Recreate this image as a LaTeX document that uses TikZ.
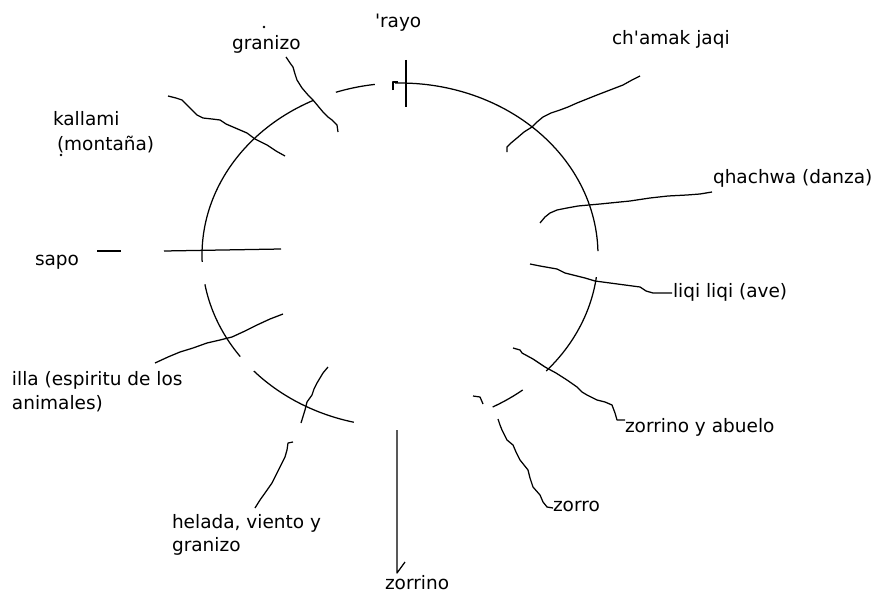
\documentclass[tikz,border=0pt]{standalone}
\usepackage{fontspec}
\newfontfamily\lblfont{DejaVu Sans}
\begin{document}
\begin{tikzpicture}[x=1pt,y=-1pt,
  lbl/.style={inner sep=0pt,outer sep=0pt,anchor=base west,font=\lblfont\fontsize{18.5}{22}\selectfont},
  circ/.style={line width=1.25pt,black},
  wig/.style={line width=1.25pt,black,line join=round},
  dotmark/.style={fill=black,draw=none}]
\useasboundingbox (0,0) rectangle (888,594);
\fill[white] (0,0) rectangle (888,594);

% circle segments
\draw[circ] plot[domain=177.7:244,samples=50] ({400+198*cos(\x)},{255+172*sin(\x)});
\draw[circ] plot[domain=251.1:262.7,samples=10] ({400+198*cos(\x)},{255+172*sin(\x)});
\draw[circ] plot[domain=268.6:358.7,samples=60] ({400+198*cos(\x)},{255+172*sin(\x)});
\draw[circ] plot[domain=7.4:42.4,samples=30] ({400+198*cos(\x)},{255+172*sin(\x)});
\draw[circ] plot[domain=51.7:62.1,samples=10] ({400+198*cos(\x)},{255+172*sin(\x)});
\draw[circ] plot[domain=103.5:137.6,samples=30] ({400+198*cos(\x)},{255+172*sin(\x)});
\draw[circ] plot[domain=143.8:170.2,samples=20] ({400+198*cos(\x)},{255+172*sin(\x)});

% labels
\node[lbl] (granizoA) at (232,50) {granizo};
\node[lbl] (rayo) at (375,28) {'rayo};
\node[lbl] (chamak) at (612,45) {ch'amak jaqi};
\node[lbl] (kallami) at (53,125) {kallami};
\node[lbl] (montana) at (57,150) {(montaña)};
\node[lbl] (qhachwa) at (713,183) {qhachwa (danza)};
\node[lbl] (sapo) at (35,265) {sapo};
\node[lbl] (liqi) at (673,297) {liqi liqi (ave)};
\node[lbl] (illaA) at (12,385) {illa (espiritu de los};
\node[lbl] (illaB) at (12,409) {animales)};
\node[lbl] (abuelo) at (625,432) {zorrino y abuelo};
\node[lbl] (zorro) at (553,511) {zorro};
\node[lbl] (heladaA) at (172,528) {helada, viento y};
\node[lbl] (heladaB) at (172,551) {granizo};
\node[lbl] (zorrino) at (385,589) {zorrino};

% stray dots
\fill[dotmark] (264,27) circle (1.4);
\fill[dotmark] (61,155) circle (1.4);

% rayo cross
\coordinate (rayoT) at (406,60);
\coordinate (rayoB) at (406,107);
\draw[wig] (rayoT) -- (rayoB);
\draw[wig] (393,90) -- (393,82) -- (398,82);

% sapo
\coordinate (sapoA) at (97,251);
\coordinate (sapoB) at (121,251);
\coordinate (sapoC) at (164,251);
\coordinate (sapoD) at (281,249);
\draw[wig] (sapoA) -- (sapoB);
\draw[wig] (sapoC) -- (sapoD);

% granizo line
\coordinate (grS) at (286,57);
\coordinate (grE) at (338,132);
\draw[wig] (grS) -- (290,63) -- (293,67) -- (295,74) -- (297,80) -- (302,88) -- (308,95) -- (313,100)
  -- (318,106) -- (323,112) -- (328,117) -- (332,120) -- (337,125) -- (grE);

% kallami line
\coordinate (kaS) at (168,96);
\coordinate (kaE) at (285,156);
\draw[wig] (kaS) -- (176,98) -- (182,100) -- (188,106) -- (192,110) -- (197,115) -- (203,118)
  -- (212,119) -- (220,120) -- (226,124) -- (233,127) -- (240,130) -- (247,133) -- (255,139)
  -- (261,142) -- (267,145) -- (276,151) -- (kaE);

% ch'amak line
\coordinate (chS) at (640,76);
\coordinate (chE) at (507,152);
\draw[wig] (chS) -- (632,80) -- (623,85) -- (610,90) -- (597,95) -- (587,99) -- (577,103)
  -- (568,107) -- (560,110) -- (551,113) -- (543,117) -- (537,122) -- (532,127)
  -- (524,132) -- (517,138) -- (511,143) -- (507,147) -- (chE);

% qhachwa line
\coordinate (qhS) at (712,192);
\coordinate (qhE) at (540,223);
\draw[wig] (qhS) -- (700,194) -- (687,195) -- (668,196) -- (650,198) -- (630,201) -- (610,203)
  -- (600,204) -- (589,205) -- (578,206) -- (567,208) -- (557,210) -- (550,213) -- (545,217) -- (qhE);

% liqi line
\coordinate (liS) at (530,264);
\coordinate (liE) at (672,293);
\draw[wig] (liS) -- (540,266) -- (557,269) -- (565,273) -- (573,275) -- (585,278) -- (595,281)
  -- (610,283) -- (625,285) -- (640,287) -- (646,291) -- (653,293) -- (liE);

% zorrino y abuelo line
\coordinate (abS) at (513,348);
\coordinate (abE) at (625,420);
\draw[wig] (abS) -- (520,350) -- (522,353) -- (533,359) -- (545,367) -- (556,373) -- (567,380)
  -- (577,387) -- (582,392) -- (587,395) -- (597,400) -- (605,402) -- (612,405) -- (615,413)
  -- (617,420) -- (abE);

% small hook
\draw[wig] (473,396) -- (480,397) -- (483,404);

% zorro line
\coordinate (zoS) at (498,419);
\coordinate (zoE) at (553,508);
\draw[wig] (zoS) -- (500,425) -- (502,430) -- (507,440) -- (513,445) -- (516,452) -- (520,460)
  -- (528,470) -- (530,478) -- (533,487) -- (540,495) -- (543,502) -- (547,507) -- (zoE);

% illa line
\coordinate (ilS) at (155,363);
\coordinate (ilE) at (283,314);
\draw[wig] (ilS) -- (168,357) -- (180,352) -- (193,348) -- (207,343) -- (220,340) -- (232,337)
  -- (245,331) -- (257,325) -- (270,319) -- (ilE);

% helada crossing line
\coordinate (heS) at (328,367);
\coordinate (heE) at (301,423);
\draw[wig] (heS) -- (323,373) -- (320,378) -- (317,383) -- (314,389) -- (312,395) -- (307,402)
  -- (305,410) -- (heE);

% helada lower line
\coordinate (hlS) at (293,442);
\coordinate (hlE) at (255,508);
\draw[wig] (hlS) -- (288,443) -- (287,450) -- (285,457) -- (280,467) -- (276,475) -- (272,483)
  -- (265,493) -- (260,500) -- (hlE);

% zorrino arrow
\coordinate (zrT) at (397,430);
\coordinate (zrB) at (397,573);
\coordinate (zrK) at (405,562);
\draw[wig] (zrT) -- (zrB) -- (zrK);
\end{tikzpicture}
\end{document}
